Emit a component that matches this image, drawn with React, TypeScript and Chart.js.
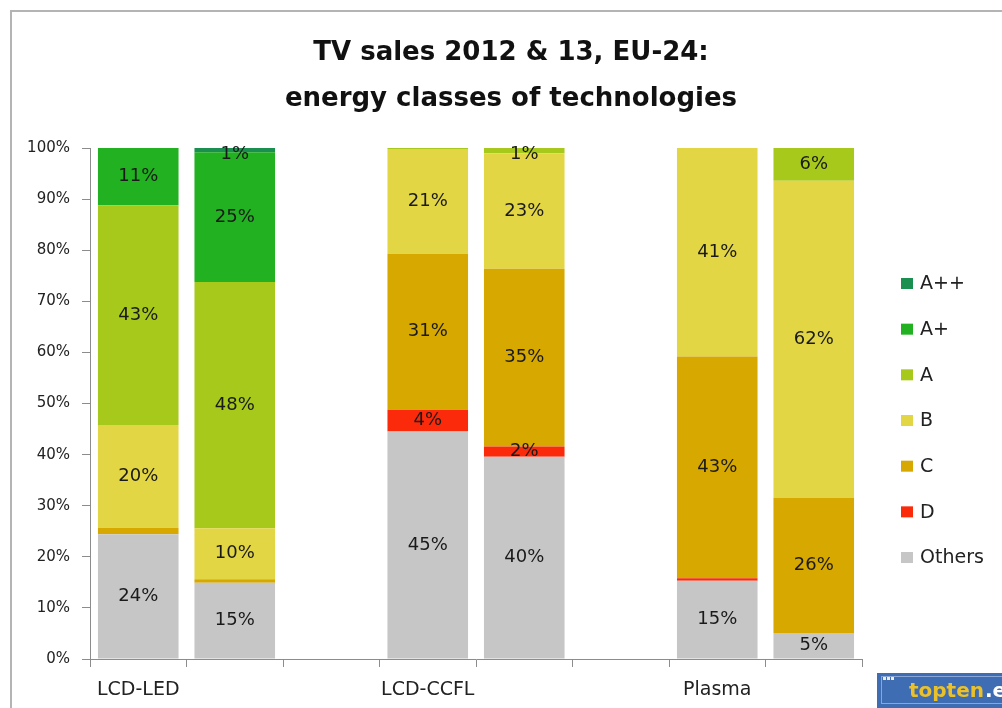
import React, { useEffect, useRef } from 'react';
import { Chart, registerables } from 'chart.js';

Chart.register(...registerables);

// ---- data ----
const categories = ['LCD-LED', '', '', 'LCD-CCFL', '', '', 'Plasma', ''];
const others = [24.4, 14.9, null, 44.5, 39.6, null, 15.3, 5.1];
const classD = [0, 0, null, 4.3, 2.0, null, 0.5, 0];
const classC = [1.3, 0.7, null, 30.5, 34.8, null, 43.4, 26.4];
const classB = [20.1, 10.0, null, 20.5, 22.6, null, 40.8, 62.1];
const classA = [43.0, 48.2, null, 0.2, 1.0, null, 0, 6.4];
const classAPlus = [11.2, 25.4, null, 0, 0, null, 0, 0];
const classAPlusPlus = [0, 0.8, null, 0, 0, null, 0, 0];

const seriesNames = ['Others', 'D', 'C', 'B', 'A', 'A+', 'A++'];
const seriesColors = ['#c6c6c6', '#fa2a0a', '#d6a800', '#e3d644', '#a6c91c', '#21b121', '#1a8f50'];
const seriesValues = [others, classD, classC, classB, classA, classAPlus, classAPlusPlus];

const titleLines = ['TV sales 2012 & 13, EU-24:', 'energy classes of technologies'];
const yMin = 0;
const yMax = 100;
const yStep = 10;

const FONT = "'DejaVu Sans', sans-serif";

const framePlugin = {
  id: 'frame',
  beforeDraw(chart: any) {
    const { ctx, width, height } = chart;
    ctx.save();
    ctx.fillStyle = '#ffffff';
    ctx.fillRect(0, 0, width, height);
    ctx.fillStyle = '#b4b4b4';
    ctx.fillRect(10, 10, width - 10, 2);
    ctx.fillRect(10, 10, 2, height - 10);
    ctx.restore();
  },
};

const dataLabelPlugin = {
  id: 'segLabels',
  afterDatasetsDraw(chart: any) {
    const { ctx } = chart;
    const dsets = chart.data.datasets;
    ctx.save();
    ctx.font = `18px ${FONT}`;
    ctx.fillStyle = '#1a1a1a';
    ctx.textAlign = 'center';
    ctx.textBaseline = 'middle';
    dsets.forEach((ds: any, di: number) => {
      const meta = chart.getDatasetMeta(di);
      meta.data.forEach((el: any, i: number) => {
        const v = ds.data[i];
        if (v == null || v <= 0) return;
        let isTop = true;
        for (let k = di + 1; k < dsets.length; k++) {
          if ((dsets[k].data[i] || 0) > 0) isTop = false;
        }
        if (!(v >= 1.5 || (isTop && v >= 0.6))) return;
        const p = el.getProps(['x', 'y', 'base'], true);
        let cy = (p.y + p.base) / 2;
        if (isTop && v < 1.5) cy += 4;
        ctx.fillText(Math.round(v) + '%', p.x, cy);
      });
    });
    ctx.restore();
  },
};

const legendPlugin = {
  id: 'sideLegend',
  afterDraw(chart: any) {
    const { ctx } = chart;
    const dsets = chart.data.datasets;
    const x0 = chart.chartArea.right + 39;
    const yTop = 283.5;
    const gap = 45.67;
    ctx.save();
    ctx.font = `19px ${FONT}`;
    ctx.textAlign = 'left';
    ctx.textBaseline = 'middle';
    for (let j = 0; j < dsets.length; j++) {
      const ds = dsets[dsets.length - 1 - j];
      const cy = yTop + j * gap;
      ctx.fillStyle = ds.backgroundColor;
      ctx.fillRect(x0, cy - 5.5, 12, 11);
      ctx.fillStyle = '#222222';
      ctx.fillText(ds.label, x0 + 19, cy + 1);
    }
    ctx.restore();
  },
};

const logoPlugin = {
  id: 'logo',
  afterDraw(chart: any) {
    const { ctx, width, height } = chart;
    ctx.save();
    ctx.fillStyle = '#3f6db3';
    ctx.fillRect(877, 673, width - 877, height - 673);
    ctx.strokeStyle = '#8aa6d6';
    ctx.lineWidth = 1;
    ctx.strokeRect(881.5, 676.5, width - 870, height - 681);
    ctx.fillStyle = '#f3ead0';
    ctx.fillRect(883, 677, 3, 3);
    ctx.fillRect(887, 677, 3, 3);
    ctx.fillRect(891, 677, 3, 3);
    ctx.font = `bold 20px ${FONT}`;
    ctx.textBaseline = 'middle';
    ctx.textAlign = 'left';
    ctx.fillStyle = '#eac12a';
    ctx.fillText('topten', 909, 692);
    const w = ctx.measureText('topten').width;
    ctx.fillStyle = '#ffffff';
    ctx.fillText('.eu', 909 + w + 1, 692);
    ctx.restore();
  },
};

export default function App() {
  const ref = useRef<HTMLCanvasElement | null>(null);

  useEffect(() => {
    if (!ref.current) return;
    const chart = new Chart(ref.current, {
      type: 'bar',
      data: {
        labels: categories,
        datasets: seriesValues.map((vals, i) => ({
          label: seriesNames[i],
          data: vals,
          backgroundColor: seriesColors[i],
          borderWidth: 0,
          barPercentage: 0.835,
          categoryPercentage: 1,
        })),
      },
      options: {
        responsive: false,
        animation: false,
        devicePixelRatio: 1,
        layout: { padding: { left: 20, right: 0, top: 0, bottom: 0 } },
        plugins: {
          legend: { display: false },
          tooltip: { enabled: false },
          title: {
            display: true,
            text: titleLines,
            color: '#111111',
            font: { family: FONT, size: 26, weight: 'bold', lineHeight: 1.77 },
            padding: { top: 30, bottom: 26 },
          },
        },
        scales: {
          x: {
            stacked: true,
            offset: true,
            grid: {
              display: true,
              offset: true,
              drawOnChartArea: false,
              drawTicks: true,
              tickLength: 8,
              color: '#8c8c8c',
            },
            border: { display: true, color: '#8c8c8c', width: 1 },
            ticks: {
              color: '#222222',
              font: { family: FONT, size: 19 },
              padding: 12,
              autoSkip: false,
              maxRotation: 0,
            },
            afterFit(scale: any) {
              scale.height = 49;
            },
          },
          y: {
            stacked: true,
            min: yMin,
            max: yMax,
            grid: {
              display: true,
              drawOnChartArea: false,
              drawTicks: true,
              tickLength: 8,
              color: '#8c8c8c',
            },
            border: { display: true, color: '#8c8c8c', width: 1 },
            ticks: {
              stepSize: yStep,
              color: '#222222',
              font: { family: FONT, size: 15 },
              padding: 12,
              callback: (v: any) => v + '%',
            },
            afterFit(scale: any) {
              scale.width = 70;
            },
          },
          legendSpace: {
            type: 'linear',
            position: 'right',
            display: true,
            grid: { display: false },
            border: { display: false },
            ticks: { display: false },
            afterFit(scale: any) {
              scale.width = 140;
            },
          },
        },
      } as any,
      plugins: [framePlugin, dataLabelPlugin, legendPlugin, logoPlugin],
    });
    return () => chart.destroy();
  }, []);

  return (
    <div style={{ position: 'fixed', left: 0, top: 0, width: 1002, height: 708 }}>
      <canvas ref={ref} width={1002} height={708} style={{ display: 'block' }} />
    </div>
  );
}
